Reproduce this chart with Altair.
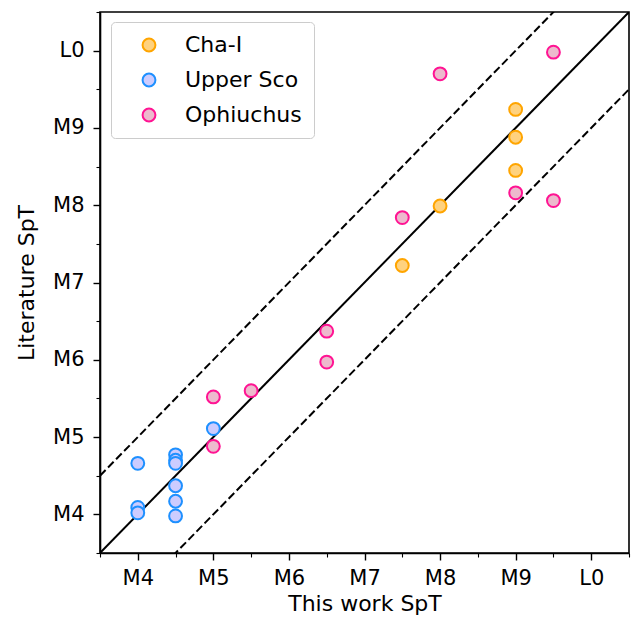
import altair as alt
import pandas as pd

groups = ["Cha-I", "Upper Sco", "Ophiuchus"]
cha_x = [8, 7.5, 9, 9, 9]
cha_y = [7.99, 7.22, 9.24, 8.88, 8.45]
usco_x = [4, 4, 4, 4.5, 4.5, 4.5, 4.5, 4.5, 4.5, 5]
usco_y = [4.66, 4.09, 4.02, 4.77, 4.70, 4.66, 4.37, 4.17, 3.98, 5.11]
oph_x = [5, 5, 5.5, 6.5, 6.5, 7.5, 8, 9.5, 9, 9.5]
oph_y = [5.52, 4.88, 5.60, 6.37, 5.97, 7.84, 9.70, 9.98, 8.16, 8.06]

tick_values = [4, 5, 6, 7, 8, 9, 10]
tick_labels = ["M4", "M5", "M6", "M7", "M8", "M9", "L0"]
minor_values = [3.5, 4.5, 5.5, 6.5, 7.5, 8.5, 9.5, 10.5]
domain = [3.5, 10.5]
line_offsets = [0, 1, -1]

face_colors = ["#FFD27F", "#CCCCFF", "#EDBACD"]
edge_colors = ["#FFA500", "#1E90FF", "#FF1493"]

rows = []
for g, xs, ys in zip(groups, [cha_x, usco_x, oph_x], [cha_y, usco_y, oph_y]):
    for x, y in zip(xs, ys):
        rows.append({"group": g, "x": x, "y": y})
pts = pd.DataFrame(rows)

lrows = []
for off in line_offsets:
    for v in domain:
        lrows.append({"x": v, "y": v + off, "off": off})
lines = pd.DataFrame(lrows)

label_expr = "[" + ",".join("'%s'" % t for t in tick_labels) + "][datum.value - 4]"
FONT = "DejaVu Sans"

xscale = alt.Scale(domain=domain, nice=False, zero=False)
yscale = alt.Scale(domain=domain, nice=False, zero=False)

main_x = alt.Axis(values=tick_values, labelExpr=label_expr, title="This work SpT",
                  orient="bottom", grid=False, tickSize=7, tickWidth=1.4, tickColor="black",
                  domainColor="black", domainWidth=1.6, labelFontSize=21, titleFontSize=22,
                  labelFont=FONT, titleFont=FONT, titleFontWeight="normal", labelColor="black",
                  titleColor="black", labelPadding=7, titlePadding=5)
main_y = alt.Axis(values=tick_values, labelExpr=label_expr, title="Literature SpT",
                  orient="left", grid=False, tickSize=7, tickWidth=1.4, tickColor="black",
                  domainColor="black", domainWidth=1.6, labelFontSize=21, titleFontSize=22,
                  labelFont=FONT, titleFont=FONT, titleFontWeight="normal", labelColor="black",
                  titleColor="black", labelPadding=9, titlePadding=14)
minor_x = alt.Axis(values=minor_values, labels=False, title=None, orient="bottom", grid=False,
                   tickSize=4, tickWidth=1.1, tickColor="black", domain=False)
minor_y = alt.Axis(values=minor_values, labels=False, title=None, orient="left", grid=False,
                   tickSize=4, tickWidth=1.1, tickColor="black", domain=False)

solid = alt.Chart(lines[lines["off"] == 0]).mark_line(color="black", strokeWidth=2, clip=True).encode(
    x=alt.X("x:Q", scale=xscale, axis=minor_x),
    y=alt.Y("y:Q", scale=yscale, axis=minor_y),
)
dashed = alt.Chart(lines[lines["off"] != 0]).mark_line(color="black", strokeWidth=2,
                                                         strokeDash=[8, 3.5], clip=True).encode(
    x=alt.X("x:Q", scale=xscale, axis=None),
    y=alt.Y("y:Q", scale=yscale, axis=None),
    detail="off:N",
)
points = alt.Chart(pts).mark_point(shape="circle", filled=True, opacity=1, strokeWidth=2,
                                   size=165).encode(
    x=alt.X("x:Q", scale=xscale, axis=main_x),
    y=alt.Y("y:Q", scale=yscale, axis=main_y),
    fill=alt.Fill("group:N", scale=alt.Scale(domain=groups, range=face_colors),
                  legend=alt.Legend(title=None, orient="none", legendX=11, legendY=10,
                                    strokeColor="#cccccc", fillColor="white", cornerRadius=4,
                                    padding=12, labelFontSize=22, labelFont=FONT,
                                    labelColor="black", symbolSize=165, symbolStrokeWidth=2,
                                    rowPadding=13, labelOffset=25, symbolOffset=15)),
    stroke=alt.Stroke("group:N", scale=alt.Scale(domain=groups, range=edge_colors), legend=None),
)

chart = alt.layer(solid, dashed, points).resolve_axis(x="independent", y="independent").properties(
    width=529, height=541,
    autosize=alt.AutoSizeParams(type="none"),
    padding={"left": 92, "top": 4, "right": 4, "bottom": 63},
).configure_view(stroke="black", strokeWidth=1.6)

chart.save("out.html", embed_options={"renderer": "svg", "actions": False})
